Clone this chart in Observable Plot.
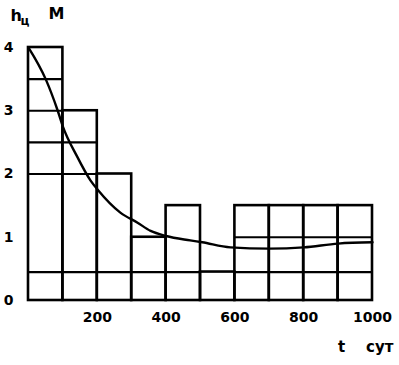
<!DOCTYPE html>
<html>
<head>
<meta charset="utf-8">
<script src="https://cdn.jsdelivr.net/npm/d3@7"></script>
<script src="https://cdn.jsdelivr.net/npm/@observablehq/plot@0.6"></script>
<style>
  html, body { margin: 0; padding: 0; background: #fff; }
  svg { display: block; }
</style>
</head>
<body>
<div id="chart"></div>
<script>
// Histogram bins (days) and their heights (m)
const binStart = [0, 100, 200, 300, 400, 500, 600, 700, 800, 900];
const binEnd   = [100, 200, 300, 400, 500, 600, 700, 800, 900, 1000];
const barHeight = [4, 3, 2, 1, 1.5, 0.45, 1.5, 1.5, 1.5, 1.5];
// Internal horizontal division lines inside each bar
const innerLevels = [
  [0.45, 2, 2.5, 3, 3.5],
  [0.45, 2, 2.5],
  [0.45],
  [0.45],
  [0.45],
  [],
  [0.45, 1],
  [0.45, 1],
  [0.45, 1],
  [0.45, 1]
];
// Smooth curve h(t)
const curveT = [0, 50, 85, 100, 140, 180, 203, 267, 317, 355, 400, 470, 505, 587, 700, 800, 900, 1000];
const curveH = [4.0, 3.5, 3.0, 2.75, 2.29, 1.9, 1.74, 1.39, 1.23, 1.1, 1.02, 0.95, 0.92, 0.84, 0.82, 0.84, 0.9, 0.92];
const xTicks = [200, 400, 600, 800, 1000];
const yTicks = [0, 1, 2, 3, 4];

const bars = binStart.map((s, i) => ({x1: s, x2: binEnd[i], h: barHeight[i]}));
const inner = [];
innerLevels.forEach((lv, i) => lv.forEach(v => inner.push({x1: binStart[i], x2: binEnd[i], y: v})));
const curve = curveT.map((t, i) => ({t, h: curveH[i]}));

const font = "DejaVu Sans, Arial, sans-serif";

const chart = Plot.plot({
  width: 399,
  height: 365,
  marginLeft: 28,
  marginRight: 27,
  marginTop: 47,
  marginBottom: 65,
  style: {fontFamily: font, fontSize: "14px", fontWeight: "bold", color: "#000", background: "#fff"},
  x: {domain: [0, 1000], ticks: xTicks, tickFormat: d => String(d), tickSize: 0, tickPadding: 12, label: null},
  y: {domain: [0, 4], ticks: yTicks, tickFormat: d => String(d), tickSize: 0, tickPadding: 15, label: null},
  marks: [
    Plot.rect(bars, {x1: "x1", x2: "x2", y1: 0, y2: "h", fill: "none", stroke: "#000", strokeWidth: 2.6}),
    Plot.ruleY(inner, {x1: "x1", x2: "x2", y: "y", stroke: "#000", strokeWidth: 2.2}),
    Plot.line(curve, {x: "t", y: "h", curve: "monotone-x", stroke: "#000", strokeWidth: 2.4}),
    Plot.text(["h"], {text: d => d, frameAnchor: "top-left", dx: -18, dy: -38, fontSize: 16, fontWeight: "bold"}),
    Plot.text(["ц"], {text: d => d, frameAnchor: "top-left", dx: -8, dy: -31, fontSize: 12, fontWeight: "bold"}),
    Plot.text(["M"], {text: d => d, frameAnchor: "top-left", dx: 20, dy: -40, fontSize: 16, fontWeight: "bold"}),
    Plot.text(["t    сут"], {text: d => d, frameAnchor: "bottom-right", dx: 21, dy: 51, fontSize: 15, fontWeight: "bold", textAnchor: "end"})
  ]
});
document.getElementById("chart").appendChild(chart);
</script>
</body>
</html>
